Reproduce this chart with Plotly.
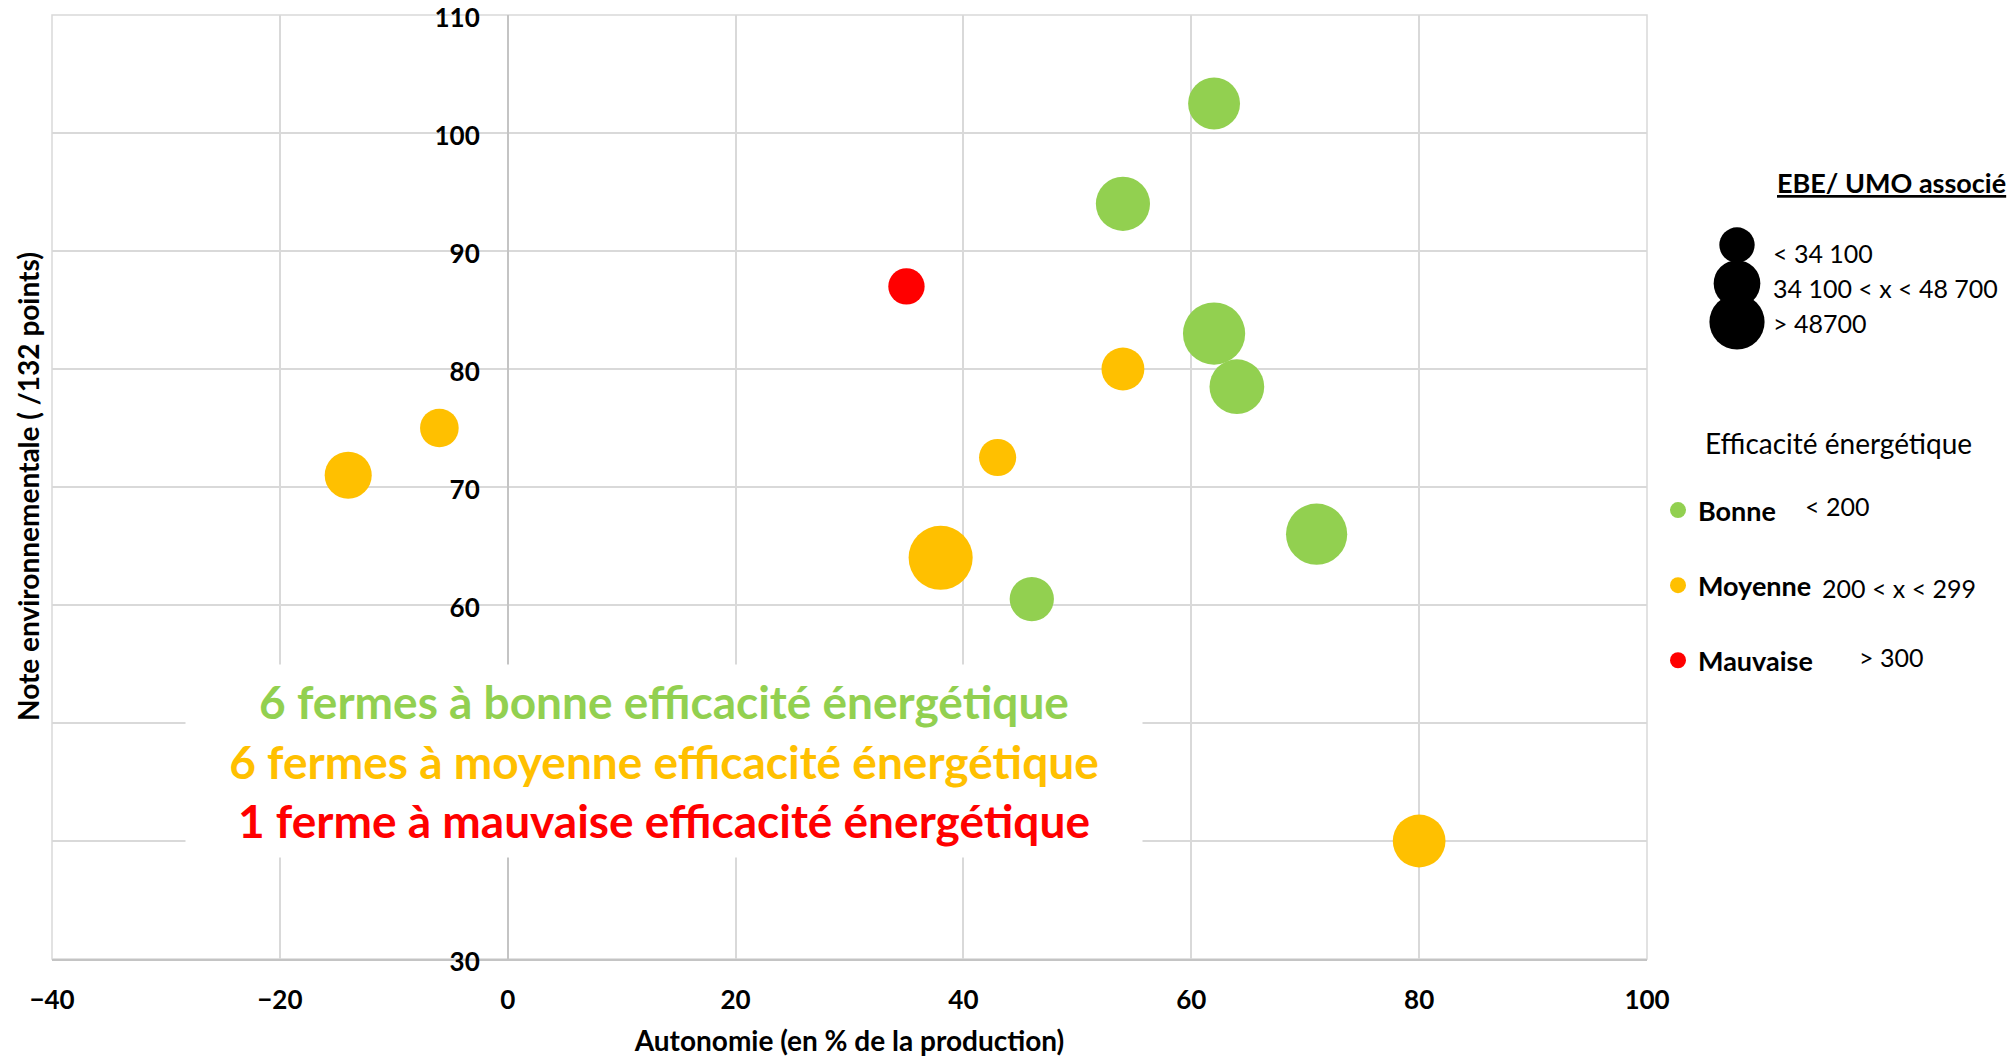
import plotly.graph_objects as go

# ---------------- data ----------------
autonomie = [62, 54, 35, 62, 54, 64, -6, 43, -14, 71, 38, 46, 80]
note_env = [102.5, 94, 87, 83, 80, 78.5, 75, 72.5, 71, 66, 64, 60.5, 40]
ebe_umo = [50700, 55200, 24900, 72900, 34600, 56400, 28100, 26000, 41700, 70600, 77300, 36900, 52400]
efficacite = ["Bonne", "Bonne", "Mauvaise", "Bonne", "Moyenne", "Bonne", "Moyenne",
              "Moyenne", "Moyenne", "Bonne", "Moyenne", "Bonne", "Moyenne"]

classes = ["Bonne", "Moyenne", "Mauvaise"]
class_seuils = ["< 200", "200 < x < 299", "> 300"]
class_colors = ["#92D050", "#FFC000", "#FF0000"]

size_labels = ["< 34 100", "34 100 < x < 48 700", "> 48700"]
size_values = [23500, 41000, 57300]

x_ticks = [-40, -20, 0, 20, 40, 60, 80, 100]
y_ticks = [30, 40, 50, 60, 70, 80, 90, 100, 110]
# 40 and 50 are hidden behind the text box in the original
y_ticktext = ["30", "", "", "60", "70", "80", "90", "100", "110"]

box_lines = ["6 fermes à bonne efficacité énergétique",
             "6 fermes à moyenne efficacité énergétique",
             "1 ferme à mauvaise efficacité énergétique"]

x_title = "Autonomie (en % de la production)"
y_title = "Note environnementale ( /132 points)"
size_title = "EBE/ UMO associé"
color_title = "Efficacité énergétique"

# ---------------- geometry ----------------
FONT = "Lato"
W, H = 2012, 1058
ML, MR, MT, MB = 52, 0, 15, 99
PW = W - ML - MR
PH = H - MT - MB


def px(fx):
    return (fx - ML) / PW


def py(fy):
    return (H - MB - fy) / PH


SIZEREF = 37.65
XDOM = [0, px(1647)]
xr = [-40, 100]
ypos = XDOM[0] + (XDOM[1] - XDOM[0]) * (0 - xr[0]) / (xr[1] - xr[0])

fig = go.Figure()

for cls, col in zip(classes, class_colors):
    idx = [i for i, e in enumerate(efficacite) if e == cls]
    fig.add_trace(go.Scatter(
        x=[autonomie[i] for i in idx],
        y=[note_env[i] for i in idx],
        mode="markers",
        name=f"<b>{cls}</b>",
        legendgroup=cls,
        marker=dict(size=[ebe_umo[i] for i in idx], sizemode="area", sizeref=SIZEREF,
                    color=col, line=dict(width=0), opacity=1),
        cliponaxis=False,
        xaxis="x", yaxis="y",
    ))

# size legend (black bubbles)
fig.add_trace(go.Scatter(
    x=[0] * len(size_labels), y=size_labels, mode="markers",
    marker=dict(size=size_values, sizemode="area", sizeref=SIZEREF, color="black",
                line=dict(width=0), opacity=1),
    xaxis="x2", yaxis="y2", showlegend=False, hoverinfo="skip", cliponaxis=False,
))
fig.add_trace(go.Scatter(
    x=[0] * len(size_labels), y=size_labels, mode="text", text=size_labels,
    textposition="middle right",
    textfont=dict(family=FONT, size=25, color="black"),
    xaxis="x3", yaxis="y3", showlegend=False, hoverinfo="skip", cliponaxis=False,
))

GRID = "#D9D9D9"
AX = "#C4C4C4"
tickfont = dict(family=FONT, size=26, color="black", weight="bold")

annotations = [
    dict(text=f"<b>{y_title}</b>", x=px(28), y=py(487), xref="paper", yref="paper",
         textangle=-90, showarrow=False, xanchor="center", yanchor="middle",
         font=dict(family=FONT, size=28, color="black")),
    dict(text="<br>".join(
        f"<span style='color:{c}'><b>{t}</b></span>" for t, c in zip(box_lines, class_colors)),
        x=px(664), y=py(761), xref="paper", yref="paper", showarrow=False,
        xanchor="center", yanchor="middle", width=956, height=192, align="center",
        valign="middle", bgcolor="white", borderpad=0,
        font=dict(family=FONT, size=46, color="black")),
    dict(text=f"<b><u>{size_title}</u></b>", x=px(1775), y=py(182), xref="paper", yref="paper",
         showarrow=False, xanchor="left", yanchor="middle",
         font=dict(family=FONT, size=27, color="black")),
    dict(text=color_title, x=px(1838), y=py(443), xref="paper", yref="paper",
         showarrow=False, xanchor="center", yanchor="middle",
         font=dict(family=FONT, size=28, color="black")),
]
for s, xx, yy in zip(class_seuils, [1803, 1820, 1857], [506, 588, 657]):
    annotations.append(dict(text=s, x=px(xx), y=py(yy), xref="paper", yref="paper",
                            showarrow=False, xanchor="left", yanchor="middle",
                            font=dict(family=FONT, size=25, color="black")))

fig.update_layout(
    width=W, height=H,
    margin=dict(l=ML, r=MR, t=MT, b=MB, pad=0, autoexpand=False),
    paper_bgcolor="white", plot_bgcolor="rgba(0,0,0,0)",
    font=dict(family=FONT, color="black"),
    xaxis=dict(domain=XDOM, range=xr, tickvals=x_ticks, showgrid=True, gridcolor=GRID, gridwidth=1.5,
               zeroline=True, zerolinecolor=AX, zerolinewidth=1.5,
               showline=True, linecolor=AX, linewidth=1.5, ticks="",
               tickfont=tickfont, ticklabelstandoff=17, anchor="y",
               title=dict(text=f"<b>{x_title}</b>", font=dict(family=FONT, size=28, color="black"),
                          standoff=17)),
    yaxis=dict(domain=[0, 1], range=[30, 110], tickvals=y_ticks, ticktext=y_ticktext,
               showgrid=True, gridcolor=GRID,
               gridwidth=1.5, zeroline=False, showline=True, linecolor=AX, linewidth=1.5,
               ticks="", tickfont=tickfont, ticklabelstandoff=22, ticklabeloverflow="allow",
               ticklabelshift=3, anchor="free", position=ypos),
    xaxis2=dict(domain=[px(1719), px(1755)], range=[-0.5, 0.5], visible=False, anchor="y2"),
    yaxis2=dict(domain=[py(341.25), py(225.75)], type="category", categoryarray=size_labels,
                range=[2.5, -0.5], visible=False, anchor="x2"),
    xaxis3=dict(domain=[px(1773), px(1800)], range=[0, 1], visible=False, anchor="y3"),
    yaxis3=dict(domain=[py(344.5), py(239.5)], type="category", categoryarray=size_labels,
                range=[2.5, -0.5], visible=False, anchor="x3"),
    legend=dict(x=px(1658), y=py(486), xanchor="left", yanchor="top",
                font=dict(family=FONT, size=27, color="black"), tracegroupgap=37,
                bgcolor="rgba(0,0,0,0)", itemsizing="trace"),
    shapes=[dict(type="rect", xref="x domain", yref="y domain", x0=0, x1=1, y0=0, y1=1,
                 line=dict(color=GRID, width=1.5), layer="below")],
    annotations=annotations,
    showlegend=True,
)

fig.write_html("out.html", config={"displayModeBar": False},
               post_script="document.body.style.margin='0px';"
                           "document.body.style.overflow='hidden';")
